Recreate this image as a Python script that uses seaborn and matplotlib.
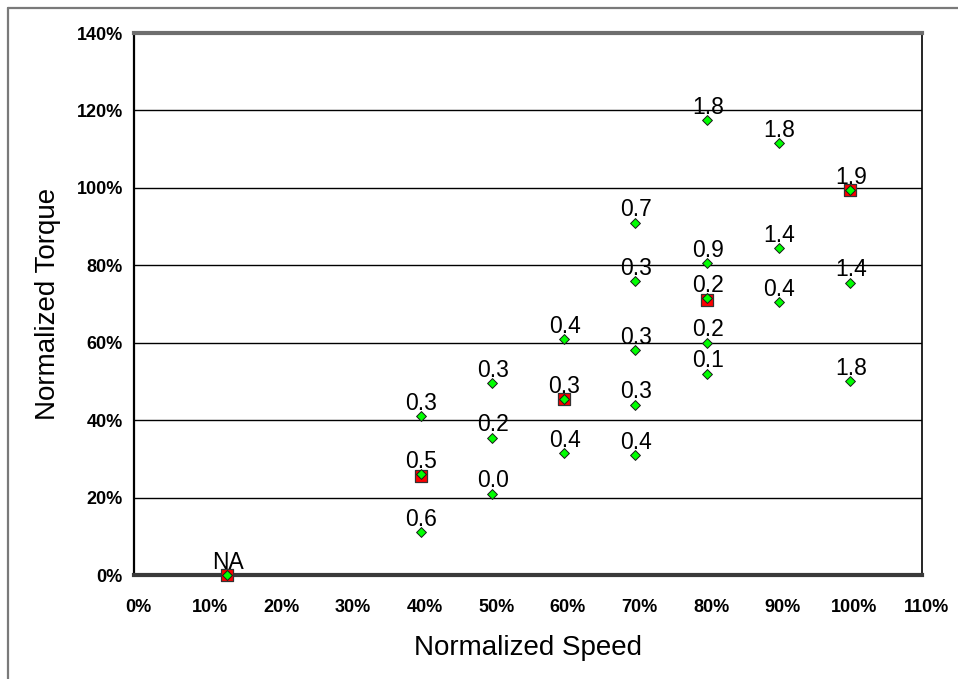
import matplotlib
matplotlib.use("Agg")
import matplotlib.pyplot as plt
from matplotlib.lines import Line2D
from matplotlib.ticker import FuncFormatter
from matplotlib.transforms import ScaledTranslation
import seaborn as sns
import pandas as pd

# ---- data ----
speed = [0.13, 0.40, 0.40, 0.40, 0.50, 0.50, 0.50, 0.60, 0.60, 0.60,
         0.70, 0.70, 0.70, 0.70, 0.70, 0.80, 0.80, 0.80, 0.80, 0.80,
         0.90, 0.90, 0.90, 1.00, 1.00, 1.00]
torque = [0.00, 0.41, 0.26, 0.11, 0.495, 0.355, 0.21, 0.61, 0.455, 0.315,
          0.91, 0.76, 0.58, 0.44, 0.31, 1.175, 0.805, 0.715, 0.60, 0.52,
          1.115, 0.845, 0.705, 0.995, 0.755, 0.50]
labels = ["NA", "0.3", "0.5", "0.6", "0.3", "0.2", "0.0", "0.4", "0.3", "0.4",
          "0.7", "0.3", "0.3", "0.3", "0.4", "1.8", "0.9", "0.2", "0.2", "0.1",
          "1.8", "1.4", "0.4", "1.9", "1.4", "1.8"]

sel_speed = [0.13, 0.40, 0.60, 0.80, 1.00]
sel_torque = [0.00, 0.255, 0.455, 0.71, 0.995]

x_ticks = [0.0, 0.1, 0.2, 0.3, 0.4, 0.5, 0.6, 0.7, 0.8, 0.9, 1.0, 1.1]
y_ticks = [0.0, 0.2, 0.4, 0.6, 0.8, 1.0, 1.2, 1.4]

pts = pd.DataFrame({"speed": speed, "torque": torque, "label": labels})
sel = pd.DataFrame({"speed": sel_speed, "torque": sel_torque})

sns.set_style("white")
plt.rcParams["font.family"] = ["Liberation Sans", "DejaVu Sans"]

W, H = 958, 679
fig = plt.figure(figsize=(W / 100, H / 100), dpi=100)
ax = fig.add_axes([134 / W, 1 - 575 / H, (922 - 134) / W, (575 - 33) / H])

sns.scatterplot(data=sel, x="speed", y="torque", marker="s", s=80,
                color="#ff0000", edgecolor="#333333", linewidth=0.9,
                ax=ax, zorder=4, clip_on=False)
sns.scatterplot(data=pts, x="speed", y="torque", marker="D", s=25,
                color="#00ff00", edgecolor="#1a1a1a", linewidth=0.7,
                ax=ax, zorder=5, clip_on=False)

for _, r in pts.iterrows():
    ax.annotate(r["label"], (r["speed"], r["torque"]), xytext=(0.5, 4.5),
                textcoords="offset points", ha="center", va="baseline",
                fontsize=16.5, color="black", zorder=6)

ax.set_xlim(0, 1.1)
ax.set_ylim(0, 1.4)
ax.set_xticks(x_ticks)
ax.set_yticks(y_ticks)
pct = FuncFormatter(lambda v, p: f"{v * 100:.0f}%")
ax.xaxis.set_major_formatter(pct)
ax.yaxis.set_major_formatter(pct)
ax.tick_params(axis="x", length=0, pad=17, labelsize=13, labelcolor="black")
ax.tick_params(axis="y", length=0, pad=8, labelsize=13, labelcolor="black")
shift = ScaledTranslation(4 / 100, 0, fig.dpi_scale_trans)
for t in ax.get_xticklabels():
    t.set_fontweight("bold")
    t.set_transform(t.get_transform() + shift)
for t in ax.get_yticklabels():
    t.set_fontweight("bold")

ax.yaxis.grid(True, color="black", linewidth=1.0)
ax.xaxis.grid(False)
ax.set_axisbelow(True)

ax.spines["left"].set_color("black")
ax.spines["left"].set_linewidth(1.6)
ax.spines["right"].set_color("black")
ax.spines["right"].set_linewidth(1.2)
ax.spines["top"].set_color("#6e6e6e")
ax.spines["top"].set_linewidth(3)
ax.spines["bottom"].set_color("#3a3a3a")
ax.spines["bottom"].set_linewidth(3)

ax.set_xlabel("Normalized Speed", fontsize=20, labelpad=14, color="black")
ax.set_ylabel("Normalized Torque", fontsize=20, labelpad=11, color="black")

# outer chart-area frame (cropped on right and bottom)
fig.add_artist(Line2D([7.5 / W, 7.5 / W], [1 - 7.5 / H, 0], transform=fig.transFigure,
                      color="#7a7a7a", linewidth=1.6))
fig.add_artist(Line2D([7.5 / W, 1], [1 - 7.5 / H, 1 - 7.5 / H], transform=fig.transFigure,
                      color="#7a7a7a", linewidth=1.6))

fig.savefig("out.png", dpi=100)
